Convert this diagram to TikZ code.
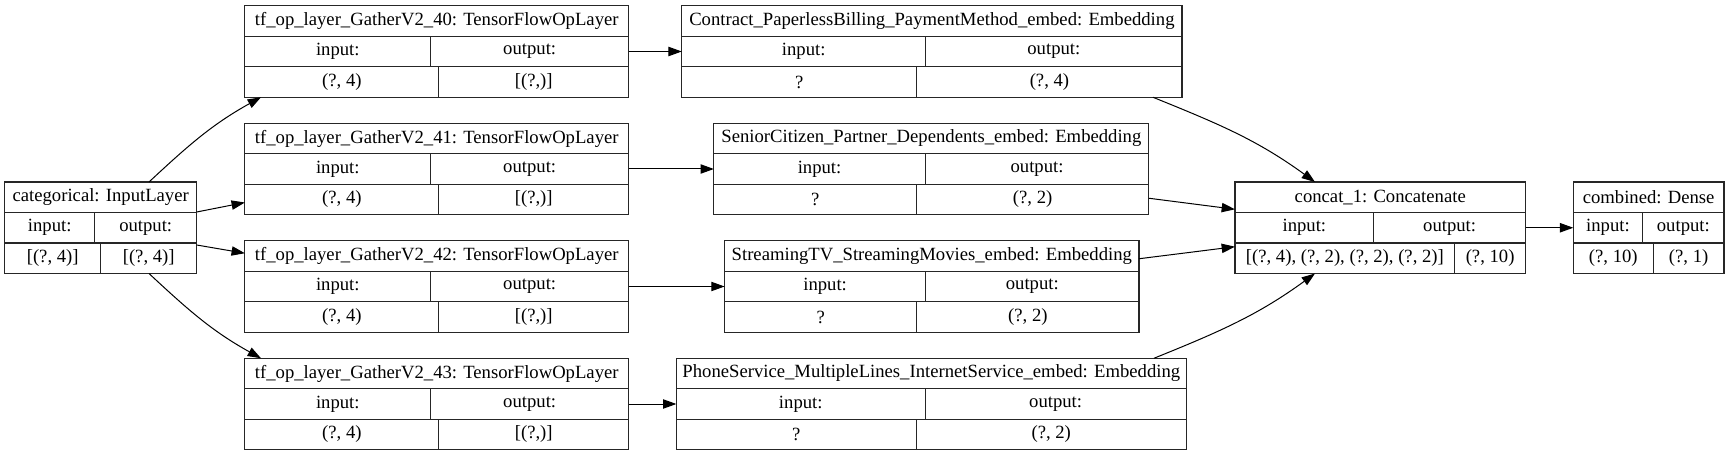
\documentclass[tikz,border=0pt]{standalone}
\usepackage{fontspec}
\setmainfont{Liberation Serif}
\usetikzlibrary{arrows.meta,calc}

\tikzset{
  layerbox/.style={draw=black!85, line width=0.8pt, rectangle, inner sep=0pt, outer sep=0pt,
    minimum height={91.5*0.75pt}},
  boxline/.style={draw=black!85, line width=0.8pt},
  cell/.style={inner sep=0pt, font=\fontsize{14}{16}\selectfont},
  flow/.style={-{Triangle[length=10pt,width=7pt]}, line width=0.75pt, black},
}

% #1 name, #2 x, #3 y, #4 width, #5 title, #6 split of row 2, #7 split of row 3, #8 input, #9 output
\newcommand{\LayerBox}[9]{%
  \node[layerbox, minimum width={#4*0.75pt}] (#1) at (#2,#3) {};
  \begin{scope}[shift={(#1.center)}]
    \draw[boxline] (-#4/2,15.25) -- (#4/2,15.25) (-#4/2,-15.25) -- (#4/2,-15.25);
    \draw[boxline] (#6,15.25) -- (#6,-15.25) (#7,-15.25) -- (#7,-45.75);
    \node[cell] (#1-title) at (0,30.5) {#5};
    \node[cell] (#1-in) at ({(#6-#4/2)/2},0) {input:};
    \node[cell] (#1-out) at ({(#6+#4/2)/2},0) {output:};
    \node[cell] (#1-inval) at ({(#7-#4/2)/2},-30.5) {#8};
    \node[cell] (#1-outval) at ({(#7+#4/2)/2},-30.5) {#9};
  \end{scope}%
}

\begin{document}
\begin{tikzpicture}[x=0.75pt, y=0.75pt]
\useasboundingbox (0,0) rectangle (1729,-456);

\LayerBox{cat}{100.7}{-227.75}{192}{categorical: InputLayer}{-6}{0}{[(?, 4)]}{[(?, 4)]}

\LayerBox{g40}{436.75}{-51.5}{383.7}{tf\_op\_layer\_GatherV2\_40: TensorFlowOpLayer}{-6}{2.1}{(?, 4)}{[(?,)]}
\LayerBox{g41}{436.75}{-169}{383.7}{tf\_op\_layer\_GatherV2\_41: TensorFlowOpLayer}{-6}{2.1}{(?, 4)}{[(?,)]}
\LayerBox{g42}{436.75}{-286.5}{383.7}{tf\_op\_layer\_GatherV2\_42: TensorFlowOpLayer}{-6}{2.1}{(?, 4)}{[(?,)]}
\LayerBox{g43}{436.75}{-404}{383.7}{tf\_op\_layer\_GatherV2\_43: TensorFlowOpLayer}{-6}{2.1}{(?, 4)}{[(?,)]}

\LayerBox{contract}{931.9}{-51.5}{500.2}{Contract\_PaperlessBilling\_PaymentMethod\_embed: Embedding}{-6.2}{-15}{?}{(?, 4)}
\LayerBox{senior}{931.4}{-169}{435}{SeniorCitizen\_Partner\_Dependents\_embed: Embedding}{-6.2}{-15}{?}{(?, 2)}
\LayerBox{streaming}{931.8}{-286.5}{414.4}{StreamingTV\_StreamingMovies\_embed: Embedding}{-6.2}{-15}{?}{(?, 2)}
\LayerBox{phone}{931.3}{-404}{509.8}{PhoneService\_MultipleLines\_InternetService\_embed: Embedding}{-6.2}{-15}{?}{(?, 2)}

\LayerBox{concat}{1380.25}{-227.75}{290.5}{concat\_1: Concatenate}{-6.5}{74.5}{[(?, 4), (?, 2), (?, 2), (?, 2)]}{(?, 10)}
\LayerBox{combined}{1648.65}{-227.75}{150.7}{combined: Dense}{-6}{4.6}{(?, 10)}{(?, 1)}

\draw[flow] ($(cat.north west)+(144.3,0)$) to[out=43,in=209] ($(g40.south west)+(16.1,0)$);
\draw[flow] ($(cat.north east)+(0,-30)$) -- ($(g41.north west)+(0,-79.25)$);
\draw[flow] ($(cat.north east)+(0,-63)$) -- ($(g42.north west)+(0,-12.5)$);
\draw[flow] ($(cat.south west)+(144.3,0)$) to[out=-43,in=151] ($(g43.north west)+(16.1,0)$);

\draw[flow] (g40.east) -- (contract.west);
\draw[flow] (g41.east) -- (senior.west);
\draw[flow] (g42.east) -- (streaming.west);
\draw[flow] (g43.east) -- (phone.west);

\draw[flow] ($(contract.south east)+(-29.1,0)$) to[out=-22,in=144] ($(concat.north west)+(80,0)$);
\draw[flow] ($(senior.north east)+(0,-75)$) -- ($(concat.north west)+(0,-27.3)$);
\draw[flow] ($(streaming.north east)+(0,-18)$) -- ($(concat.north west)+(0,-64.7)$);
\draw[flow] ($(phone.north east)+(-32.2,0)$) to[out=22,in=216] ($(concat.south west)+(80,0)$);

\draw[flow] (concat.east) -- (combined.west);
\end{tikzpicture}
\end{document}
